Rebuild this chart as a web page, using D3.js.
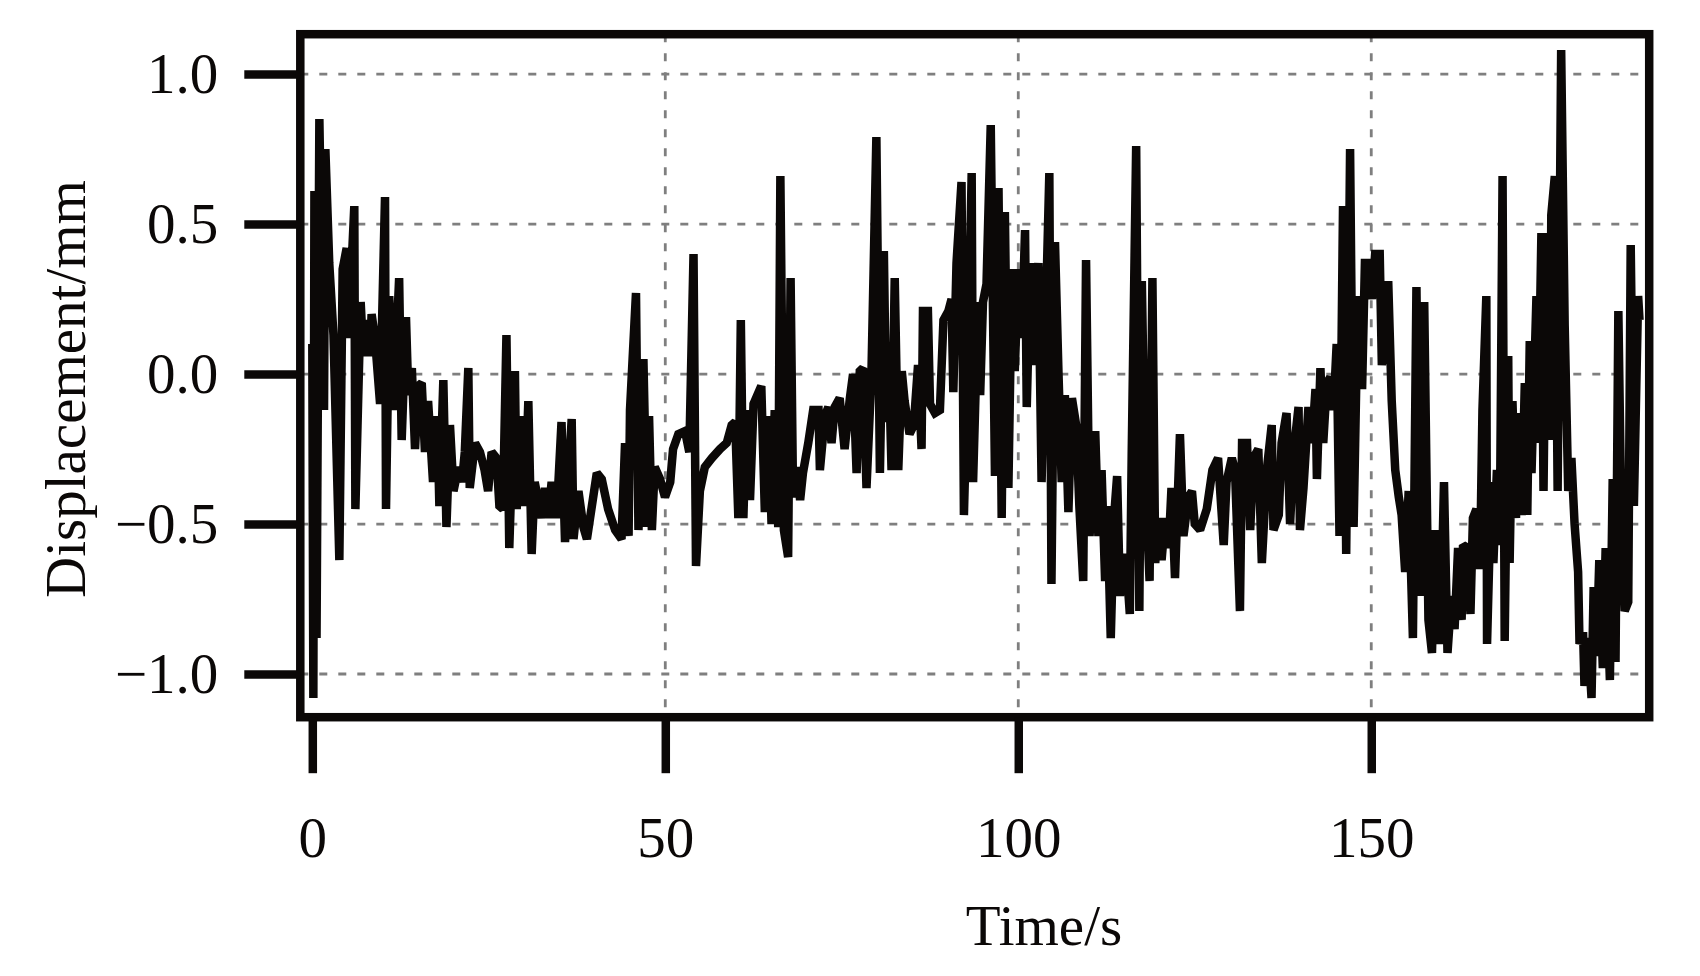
<!DOCTYPE html>
<html><head><meta charset="utf-8">
<script src="https://cdn.jsdelivr.net/npm/d3@7"></script>
<style>html,body{margin:0;padding:0;background:#fff;} svg{display:block;}</style>
</head><body><svg id="chart" width="1700" height="976"></svg>
<script>
// ---- data (time in s, displacement in mm) ----
const time = [
0.0,0.15,0.3,0.6,1.0,1.66,1.85,2.4,3.0,3.83,4.3,4.87,5.1,5.95,6.1,6.85,7.23,7.7,8.17,8.4,8.88,9.6,10.3,10.44,10.9,11.5,12.3,12.66,13.27,13.6,14.1,14.55,15.0,15.5,15.96,16.4,17.1,17.7,18.0,18.56,19.0,19.5,20.0,20.7,21.2,21.6,22.1,22.3,23.05,23.75,24.4,24.9,25.4,26.1,26.5,27.0,27.5,27.9,28.7,28.95,29.66,30.1,30.6,31.07,31.5,
32.0,32.5,32.96,33.4,33.9,34.6,35.3,35.8,36.74,37.0,37.7,38.4,38.9,39.6,40.3,41.0,41.9,42.9,43.8,44.3,44.8,45.0,45.85,46.2,46.9,47.4,47.7,48.1,48.5,49.25,49.96,50.7,51.1,51.85,52.8,53.4,54.0,54.35,54.9,55.6,56.6,57.75,58.7,59.4,59.9,60.35,60.7,61.06,61.5,62.0,62.5,
63.6,64.1,64.6,65.05,65.5,66.0,66.3,66.8,67.4,67.75,68.1,68.7,69.1,69.5,70.25,70.95,71.7,71.9,72.6,73.1,73.55,74.0,74.7,75.4,76.15,76.6,77.1,77.55,78.0,78.5,79.2,79.9,80.4,80.96,81.3,81.6,82.05,82.5,83.0,83.5,83.9,84.6,85.2,85.8,86.3,86.5,87.2,87.5,88.2,88.9,89.4,90.1,90.55,90.8,91.25,91.96,92.3,92.9,93.4,93.6,94.3,94.6,95.0,95.5,
96.1,96.7,97.2,97.65,98.1,98.6,99.1,99.5,100.0,100.5,100.96,101.2,101.7,102.1,102.85,103.3,104.4,104.7,105.2,105.7,106.15,106.6,107.1,107.6,108.2,108.65,109.2,109.6,110.1,110.9,111.35,111.8,112.3,112.6,113.1,113.56,114.0,114.4,114.9,115.4,115.8,116.07,116.7,117.15,117.5,117.95,118.6,119.0,119.4,119.8,120.3,120.8,121.3,121.7,122.2,122.9,123.4,124.1,124.6,125.0,125.75,126.7,127.5,128.3,
129.1,129.5,130.25,130.7,131.4,131.7,132.4,132.85,133.3,134.0,134.5,135.2,135.9,136.15,136.9,137.3,138.0,138.5,139.0,139.7,139.9,140.4,141.1,141.6,142.1,142.3,142.8,143.2,143.7,144.2,144.65,145.1,145.5,146.0,146.45,147.0,147.5,148.0,148.3,148.7,149.1,149.6,150.1,150.55,151.2,151.5,152.0,152.4,152.9,153.4,153.9,154.3,154.8,155.3,155.9,156.4,156.9,157.5,158.1,158.6,159.05,159.8,160.3,160.8,
161.35,161.8,162.3,162.8,163.0,163.7,164.05,164.4,164.9,165.4,165.75,166.3,166.4,167.0,167.3,167.8,168.2,168.6,168.9,169.4,169.6,170.0,170.5,170.8,171.3,171.75,172.1,172.45,172.7,173.4,173.6,174.1,174.4,174.8,175.3,175.5,176.0,176.4,176.9,177.4,177.9,178.35,178.8,179.3,179.5,180.0,180.2,180.7,181.2,181.5,181.9,182.3,182.8,183.2,183.8,184.2,184.6,185.0,185.4,185.9,186.4,186.75,187.2,187.8,188.0
];
const displacement = [
0.10,-1.08,0.61,-0.88,0.85,-0.12,0.75,0.37,0.13,-0.62,0.35,0.42,0.12,0.56,-0.45,0.24,0.06,0.18,0.06,0.20,0.12,-0.10,0.59,-0.45,0.26,-0.12,0.32,-0.22,0.19,-0.07,0.02,-0.25,-0.04,-0.03,-0.26,-0.09,-0.36,-0.14,-0.44,-0.02,-0.51,-0.17,-0.39,-0.31,-0.36,-0.26,0.02,-0.38,-0.23,-0.26,-0.32,-0.39,-0.26,-0.28,-0.44,-0.45,0.13,-0.58,0.01,-0.45,-0.14,-0.44,-0.09,-0.60,-0.36,
-0.42,-0.48,-0.38,-0.48,-0.36,-0.48,-0.16,-0.56,-0.15,-0.55,-0.39,-0.51,-0.55,-0.44,-0.33,-0.35,-0.45,-0.52,-0.55,-0.23,-0.54,-0.12,0.27,-0.52,0.05,-0.51,-0.14,-0.52,-0.31,-0.35,-0.41,-0.36,-0.25,-0.20,-0.19,-0.26,0.40,-0.64,-0.39,-0.31,-0.28,-0.25,-0.23,-0.17,-0.16,-0.48,0.18,-0.48,-0.12,-0.42,-0.10,
-0.04,-0.46,-0.14,-0.50,-0.12,-0.51,0.66,-0.52,-0.61,0.32,-0.41,-0.31,-0.42,-0.33,-0.23,-0.12,-0.12,-0.32,-0.14,-0.11,-0.23,-0.11,-0.08,-0.25,-0.08,0.00,-0.33,0.01,0.02,-0.38,0.00,0.79,-0.33,0.41,-0.16,0.09,-0.32,0.32,-0.32,0.01,-0.09,-0.20,-0.17,0.03,-0.25,0.21,0.21,-0.10,-0.13,-0.12,0.18,0.21,0.25,-0.06,0.37,0.64,-0.47,0.07,0.67,-0.36,0.24,-0.07,0.24,0.30,
0.83,-0.34,0.62,-0.48,0.54,-0.38,0.35,0.01,0.35,0.12,0.48,-0.11,0.37,0.03,0.37,-0.36,0.67,-0.70,0.44,0.00,-0.36,-0.07,-0.46,-0.08,-0.17,-0.44,-0.69,0.38,-0.54,-0.19,-0.54,-0.32,-0.69,-0.44,-0.88,-0.48,-0.34,-0.74,-0.60,-0.66,-0.80,-0.26,0.76,-0.79,0.31,-0.32,-0.69,0.32,-0.63,-0.48,-0.62,-0.48,-0.58,-0.38,-0.68,-0.20,-0.54,-0.41,-0.39,-0.50,-0.52,-0.45,-0.32,-0.28,
-0.57,-0.36,-0.28,-0.32,-0.79,-0.23,-0.23,-0.52,-0.28,-0.25,-0.63,-0.32,-0.17,-0.52,-0.47,-0.23,-0.13,-0.50,-0.26,-0.11,-0.52,-0.38,-0.11,-0.23,-0.05,-0.35,0.02,-0.23,-0.03,-0.01,-0.12,0.10,-0.54,0.56,-0.60,0.75,-0.51,0.13,0.26,-0.05,0.37,0.37,0.25,0.40,0.40,0.03,0.12,0.31,-0.09,-0.32,-0.41,-0.47,-0.66,-0.39,-0.88,0.29,-0.74,0.24,-0.82,-0.93,-0.52,-0.90,-0.36,-0.93,
-0.74,-0.85,-0.58,-0.82,-0.57,-0.58,-0.80,-0.48,-0.45,-0.65,-0.12,0.26,-0.90,-0.36,-0.63,-0.32,-0.57,0.66,-0.89,0.06,-0.63,-0.09,-0.48,-0.13,-0.47,-0.03,-0.47,0.11,-0.33,0.26,-0.23,0.47,-0.39,0.47,-0.22,0.53,0.66,-0.39,1.08,0.16,-0.39,-0.28,-0.50,-0.66,-0.90,-0.86,-1.04,-0.88,-1.08,-0.71,-0.94,-0.62,-0.98,-0.58,-1.02,-0.35,-0.96,0.21,-0.44,-0.79,-0.76,0.43,-0.44,0.26,0.18
];
const xTicks = [0, 50, 100, 150];
const xGrid = [50, 100, 150];
const yTicks = [-1.0, -0.5, 0.0, 0.5, 1.0];
const yTickLabels = ["\u22121.0", "\u22120.5", "0.0", "0.5", "1.0"];
const xLabel = "Time/s";
const yLabel = "Displacement/mm";

// ---- layout ----
const ink = "#0b0807";
const font = "'Liberation Serif','Times New Roman',serif";
const frame = {left: 300.3, right: 1649.2, top: 34.2, bottom: 717.2};
const svg = d3.select("#chart");
svg.append("rect").attr("width", 1700).attr("height", 976).attr("fill", "#fff");

const x = d3.scaleLinear().domain([-1.7, 189.37]).range([frame.left, frame.right]);
const y = d3.scaleLinear().domain([-1.144, 1.133]).range([frame.bottom, frame.top]);

// grid
const grid = svg.append("g").attr("stroke", "#7f7f7f").attr("stroke-width", 2.8)
  .attr("stroke-dasharray", "8,11").attr("fill", "none");
grid.selectAll("line.h").data(yTicks).join("line").attr("class", "h")
  .attr("x1", frame.left).attr("x2", frame.right)
  .attr("y1", d => y(d)).attr("y2", d => y(d));
grid.selectAll("line.v").data(xGrid).join("line").attr("class", "v")
  .attr("y1", frame.top).attr("y2", frame.bottom)
  .attr("x1", d => x(d)).attr("x2", d => x(d));

// data line
const pts = time.map((t, i) => [t, displacement[i]]);
svg.append("path").datum(pts)
  .attr("fill", "none").attr("stroke", ink).attr("stroke-width", 8.5)
  .attr("stroke-linejoin", "miter").attr("stroke-miterlimit", 2)
  .attr("d", d3.line().x(d => x(d[0])).y(d => y(d[1])));

// frame
svg.append("rect").attr("x", frame.left).attr("y", frame.top)
  .attr("width", frame.right - frame.left).attr("height", frame.bottom - frame.top)
  .attr("fill", "none").attr("stroke", ink).attr("stroke-width", 8.5);

// axes
const yAxis = svg.append("g").attr("transform", `translate(${frame.left},0)`)
  .call(d3.axisLeft(y).tickValues(yTicks).tickSize(56).tickSizeOuter(0).tickPadding(26)
    .tickFormat((d, i) => yTickLabels[i]));
const xAxis = svg.append("g").attr("transform", `translate(0,${frame.bottom})`)
  .call(d3.axisBottom(x).tickValues(xTicks).tickSize(56).tickSizeOuter(0).tickPadding(43)
    .tickFormat(d3.format("d")));
[yAxis, xAxis].forEach(a => {
  a.select(".domain").remove();
  a.selectAll(".tick line").attr("stroke", ink).attr("stroke-width", 8.5);
  a.selectAll(".tick text").attr("fill", ink).style("font-family", font).style("font-size", "57px");
});

// axis titles
svg.append("text").attr("x", 1044).attr("y", 945).attr("text-anchor", "middle")
  .attr("fill", ink).style("font-family", font).style("font-size", "57px").text(xLabel);
svg.append("text").attr("transform", "translate(85,389) rotate(-90)").attr("text-anchor", "middle")
  .attr("fill", ink).style("font-family", font).style("font-size", "57px").text(yLabel);
</script></body></html>
